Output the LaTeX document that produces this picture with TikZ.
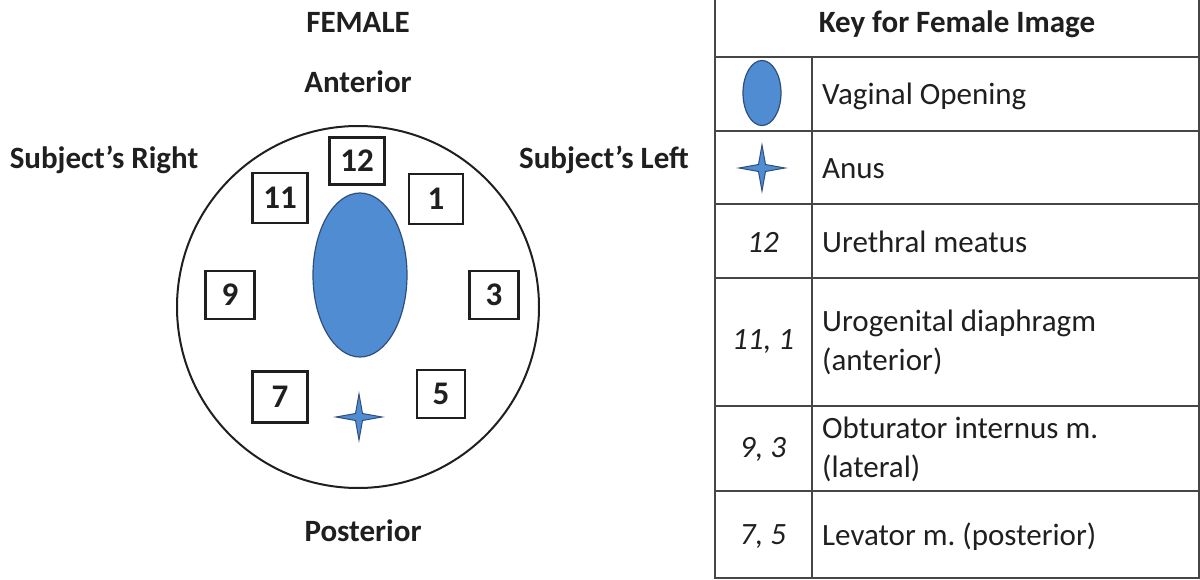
\documentclass[tikz,border=0pt]{standalone}
\usepackage{fontspec}
\setmainfont{Carlito}
\usetikzlibrary{shapes.geometric}
\frenchspacing
\definecolor{blueFill}{RGB}{79,140,210}
\definecolor{blueEdge}{RGB}{48,78,125}
\definecolor{tline}{RGB}{70,70,70}
\tikzset{
  txt/.style={font=\fontsize{31}{39}\selectfont, inner sep=0pt, text=black!88},
  btxt/.style={txt, font=\fontsize{31}{39}\selectfont\bfseries},
  numbox/.style={draw=black!88, line width=2.2pt, fill=white, inner sep=0pt,
    font=\fontsize{33}{36}\selectfont\bfseries, text=black!88},
  opening/.style={ellipse, draw=blueEdge, line width=1.2pt, fill=blueFill, inner sep=0pt},
  tbl/.style={draw=tline, line width=2.4pt},
  keytxt/.style={txt, anchor=west, align=left},
  keynum/.style={txt, font=\fontsize{31}{39}\selectfont\itshape},
}
\begin{document}
\begin{tikzpicture}[x=1pt,y=-1pt]
\useasboundingbox (0,0) rectangle (1200,580);
% ---- left figure ----
\node[btxt] (female) at (358,22) {FEMALE};
\node[btxt] (anterior) at (358,82) {Anterior};
\node[btxt] (sright) at (104,160) {Subject’s Right};
\node[btxt] (sleft) at (604,160) {Subject’s Left};
\node[btxt] (posterior) at (363,531) {Posterior};
\node[circle, draw=black!88, line width=2pt, minimum size=362pt, inner sep=0pt] (ring) at (358,307) {};
\node[opening, minimum width=94pt, minimum height=164pt] (vag) at (360,275) {};
\draw[draw=blueEdge, fill=blueFill, line width=1pt]
  (359,394) -- (362.5,413.5) -- (382,417) -- (362.5,420.5) -- (359,440)
  -- (355.5,420.5) -- (336,417) -- (355.5,413.5) -- cycle;
\node[numbox, minimum width=55pt, minimum height=47pt] (b12) at (357,161) {12};
\node[numbox, minimum width=55pt, minimum height=50pt] (b11) at (280,198) {11};
\node[numbox, minimum width=54pt, minimum height=50pt] (b1) at (436,199) {1};
\node[numbox, minimum width=49pt, minimum height=48pt] (b9) at (230,295) {9};
\node[numbox, minimum width=49pt, minimum height=48pt] (b3) at (494,295) {3};
\node[numbox, minimum width=55pt, minimum height=51pt] (b7) at (280,397) {7};
\node[numbox, minimum width=48pt, minimum height=48pt] (b5) at (441,394) {5};
% ---- key table ----
\coordinate (tl) at (715,0);
\coordinate (tr) at (1199,0);
\coordinate (bl) at (715,578);
\coordinate (br) at (1199,578);
\draw[tbl] (tl) -- (bl) -- (br) -- (tr);
\draw[tbl] (715,57) -- (1199,57);
\draw[tbl] (715,131) -- (1199,131);
\draw[tbl] (715,204) -- (1199,204);
\draw[tbl] (715,278) -- (1199,278);
\draw[tbl] (715,406) -- (1199,406);
\draw[tbl] (715,491) -- (1199,491);
\draw[tbl] (812,57) -- (812,578);
\node[btxt] (keyhead) at (957,24) {Key for Female Image};
\node[opening, minimum width=38pt, minimum height=65pt] (kvag) at (762,93) {};
\draw[draw=blueEdge, fill=blueFill, line width=1pt]
  (762,145) -- (765.5,164.5) -- (785,168) -- (765.5,171.5) -- (762,191)
  -- (758.5,171.5) -- (739,168) -- (758.5,164.5) -- cycle;
\node[keytxt] (k1) at (822,96) {Vaginal Opening};
\node[keytxt] (k2) at (822,169) {Anus};
\node[keynum] (n3) at (763,242) {12};
\node[keytxt] (k3) at (822,242) {Urethral meatus};
\node[keynum] (n4) at (763,342) {11, 1};
\node[keytxt] (k4) at (822,342) {Urogenital diaphragm\\(anterior)};
\node[keynum] (n5) at (763,449) {9, 3};
\node[keytxt] (k5) at (822,449) {Obturator internus m.\\(lateral)};
\node[keynum] (n6) at (763,537) {7, 5};
\node[keytxt] (k6) at (822,537) {Levator m. (posterior)};
\end{tikzpicture}
\end{document}
